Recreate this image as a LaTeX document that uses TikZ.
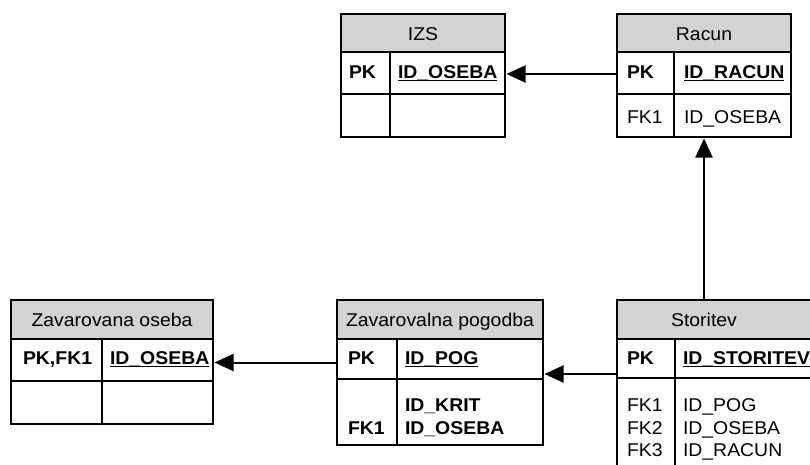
\documentclass[tikz,border=0pt]{standalone}
\usepackage{fontspec}
\setmainfont[FakeStretch=1.05]{Liberation Sans}
\usetikzlibrary{arrows.meta}
\definecolor{headgray}{RGB}{211,211,211}
\newcommand\fs{\fontsize{18.5}{22.5}\selectfont}
% underline that sits just below the baseline, through the underscore
\newcommand\keyul[1]{\setbox0\hbox{#1}\rlap{\rule[-3pt]{\wd0}{1.4pt}}\box0}
\tikzset{
  cell/.style={rectangle, draw=black, line width=1.3pt, inner sep=0pt, outer sep=0pt, anchor=north west},
  headcell/.style={cell, fill=headgray},
  txt/.style={inner sep=0pt, outer sep=0pt, anchor=base west, font=\fs},
  keytxt/.style={txt, font=\fs\bfseries},
  headtxt/.style={inner sep=0pt, outer sep=0pt, anchor=base, font=\fs},
  divider/.style={line width=1.3pt},
  fk/.style={line width=2pt, -{Triangle[length=19pt,width=17pt]}, shorten >=1.5pt}
}
\begin{document}
\begin{tikzpicture}[x=1pt,y=-1pt]
\clip (0,0) rectangle (810,464);
\fill[white] (0,0) rectangle (810,464);

% ---- IZS ----
\node[headcell, minimum width=164pt, minimum height=38pt] (izsH) at (341,14) {};
\node[cell, minimum width=164pt, minimum height=42pt] (izsR1) at (341,52) {};
\node[cell, minimum width=164pt, minimum height=43pt] (izsR2) at (341,94) {};
\draw[divider] (390,52) -- (390,137);
\node[headtxt] (izsT) at (423,40.5) {IZS};
\node[keytxt] (izsPK) at (349,78) {PK};
\node[keytxt] (izsId) at (398,78) {\keyul{ID\_OSEBA}};

% ---- Racun ----
\node[headcell, minimum width=174pt, minimum height=38pt] (racH) at (617,14) {};
\node[cell, minimum width=174pt, minimum height=42pt] (racR1) at (617,52) {};
\node[cell, minimum width=174pt, minimum height=43pt] (racR2) at (617,94) {};
\draw[divider] (674,52) -- (674,137);
\node[headtxt] (racT) at (704,40.5) {Racun};
\node[keytxt] (racPK) at (627,78) {PK};
\node[keytxt] (racId) at (684,78) {\keyul{ID\_RACUN}};
\node[txt] (racFK) at (627,123) {FK1};
\node[txt] (racOs) at (684,123) {ID\_OSEBA};

% ---- Zavarovana oseba ----
\node[headcell, minimum width=202pt, minimum height=39pt] (zoH) at (11,300) {};
\node[cell, minimum width=202pt, minimum height=42pt] (zoR1) at (11,339) {};
\node[cell, minimum width=202pt, minimum height=43pt] (zoR2) at (11,381) {};
\draw[divider] (102,339) -- (102,424);
\node[headtxt] (zoT) at (112,326.5) {Zavarovana oseba};
\node[keytxt] (zoPK) at (23,364) {PK,FK1};
\node[keytxt] (zoId) at (110,364) {\keyul{ID\_OSEBA}};

% ---- Zavarovalna pogodba ----
\node[headcell, minimum width=206pt, minimum height=39pt] (pogH) at (337,300) {};
\node[cell, minimum width=206pt, minimum height=40pt] (pogR1) at (337,339) {};
\node[cell, minimum width=206pt, minimum height=66pt] (pogR2) at (337,379) {};
\draw[divider] (397,339) -- (397,445);
\node[headtxt] (pogT) at (440,326.5) {Zavarovalna pogodba};
\node[keytxt] (pogPK) at (348,364) {PK};
\node[keytxt] (pogId) at (405,364) {\keyul{ID\_POG}};
\node[keytxt] (pogKr) at (405,411.5) {ID\_KRIT};
\node[keytxt] (pogFK) at (348,434) {FK1};
\node[keytxt] (pogOs) at (405,434) {ID\_OSEBA};

% ---- Storitev ----
\node[headcell, minimum width=223pt, minimum height=39pt] (stH) at (617,300) {};
\node[cell, minimum width=223pt, minimum height=39pt] (stR1) at (617,339) {};
\node[cell, minimum width=223pt, minimum height=112pt] (stR2) at (617,378) {};
\draw[divider] (675,339) -- (675,490);
\node[headtxt] (stT) at (704,326.5) {Storitev};
\node[keytxt] (stPK) at (627,364) {PK};
\node[keytxt] (stId) at (683,364) {\keyul{ID\_STORITEV}};
\node[txt] (stFK1) at (627,411.5) {FK1};
\node[txt] (stPog) at (683,411.5) {ID\_POG};
\node[txt] (stFK2) at (627,434) {FK2};
\node[txt] (stOs) at (683,434) {ID\_OSEBA};
\node[txt] (stFK3) at (627,456.5) {FK3};
\node[txt] (stRa) at (683,456.5) {ID\_RACUN};

% ---- relationships ----
\draw[fk] ([yshift=-1pt]racR1.west) -- ([yshift=-1pt]izsR1.east);
\draw[fk] (stH.north -| racR2.south) -- (racR2.south);
\draw[fk] ([yshift=4pt]stR1.south west) -- ([yshift=5pt]pogR1.south east);
\draw[fk] ([yshift=-3.5pt]pogR1.west) -- ([yshift=-2.5pt]zoR1.east);
\end{tikzpicture}
\end{document}
